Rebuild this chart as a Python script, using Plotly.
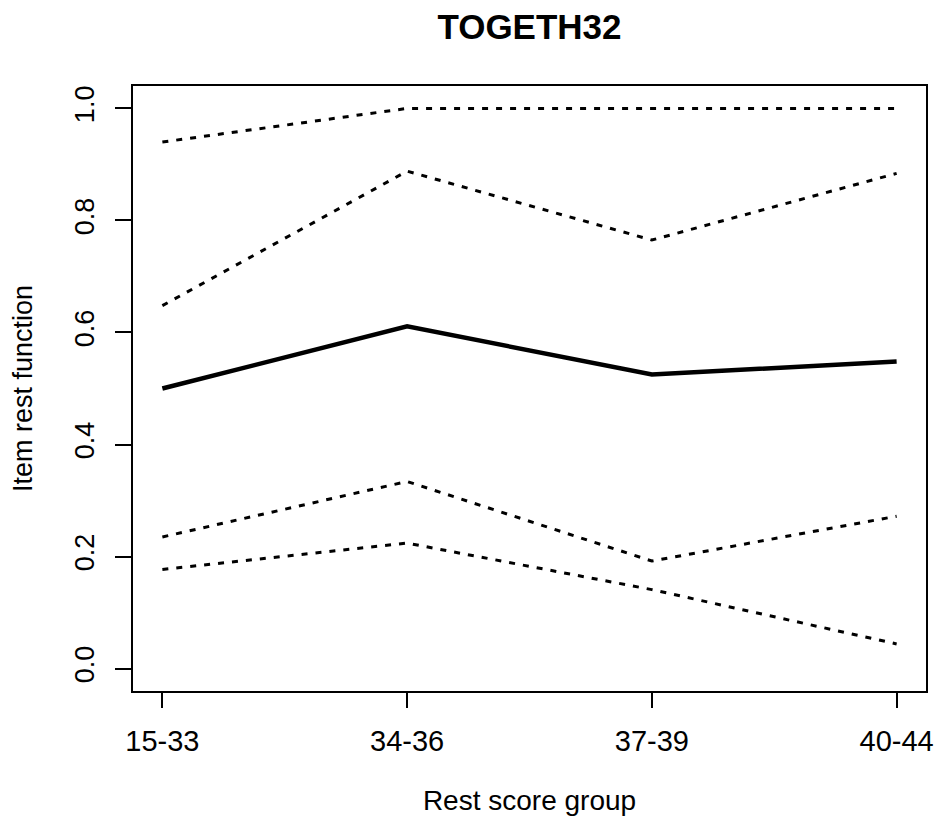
import plotly.graph_objects as go

# Rest score groups on the x axis
groups = ["15-33", "34-36", "37-39", "40-44"]

# Item rest function and its confidence bounds
irf = [0.50, 0.611, 0.525, 0.548]
upper_outer = [0.94, 1.0, 1.0, 1.0]
upper_inner = [0.648, 0.888, 0.765, 0.884]
lower_inner = [0.235, 0.334, 0.192, 0.272]
lower_outer = [0.177, 0.224, 0.141, 0.044]

y_ticks = [0.0, 0.2, 0.4, 0.6, 0.8, 1.0]
y_tick_text = ["0.0", "0.2", "0.4", "0.6", "0.8", "1.0"]

FONT = "Liberation Sans, Arial, Helvetica, sans-serif"
xpos = list(range(1, len(groups) + 1))

fig = go.Figure()

dash_style = dict(color="black", width=3, dash="6px,8px")
for series in (upper_outer, upper_inner, lower_inner, lower_outer):
    fig.add_trace(go.Scatter(x=xpos, y=series, mode="lines",
                             line=dash_style, hoverinfo="skip"))

fig.add_trace(go.Scatter(x=xpos, y=irf, mode="lines",
                         line=dict(color="black", width=4.5)))

fig.update_layout(
    width=935, height=816,
    margin=dict(l=133, r=9, t=86, b=125),
    paper_bgcolor="white", plot_bgcolor="white",
    showlegend=False,
    font=dict(family=FONT, color="black"),
    title=dict(text="<b>TOGETH32</b>", xref="paper", x=0.5, xanchor="center",
               y=1 - 27 / 816, yanchor="middle",
               font=dict(size=35, family=FONT, color="black")),
)

fig.update_xaxes(
    range=[0.88, 4.12], tickmode="array", tickvals=xpos, ticktext=groups,
    showgrid=False, zeroline=False, automargin=False,
    showline=True, mirror=True, linecolor="black", linewidth=1.6,
    ticks="outside", ticklen=15, tickwidth=1.6, tickcolor="black",
    tickfont=dict(size=29, family=FONT), ticklabelstandoff=8,
    title=dict(text="Rest score group", font=dict(size=28, family=FONT),
               standoff=36),
)

fig.update_yaxes(
    range=[-0.04, 1.04], tickmode="array", tickvals=y_ticks, ticktext=y_tick_text,
    showgrid=False, zeroline=False, automargin=False,
    showline=True, mirror=True, linecolor="black", linewidth=1.6,
    ticks="outside", ticklen=16, tickwidth=1.6, tickcolor="black",
    tickangle=-90, tickfont=dict(size=27, family=FONT), ticklabelstandoff=10,
    title=dict(text="Item rest function", font=dict(size=27, family=FONT),
               standoff=30),
)

fig.write_html("out.html")
